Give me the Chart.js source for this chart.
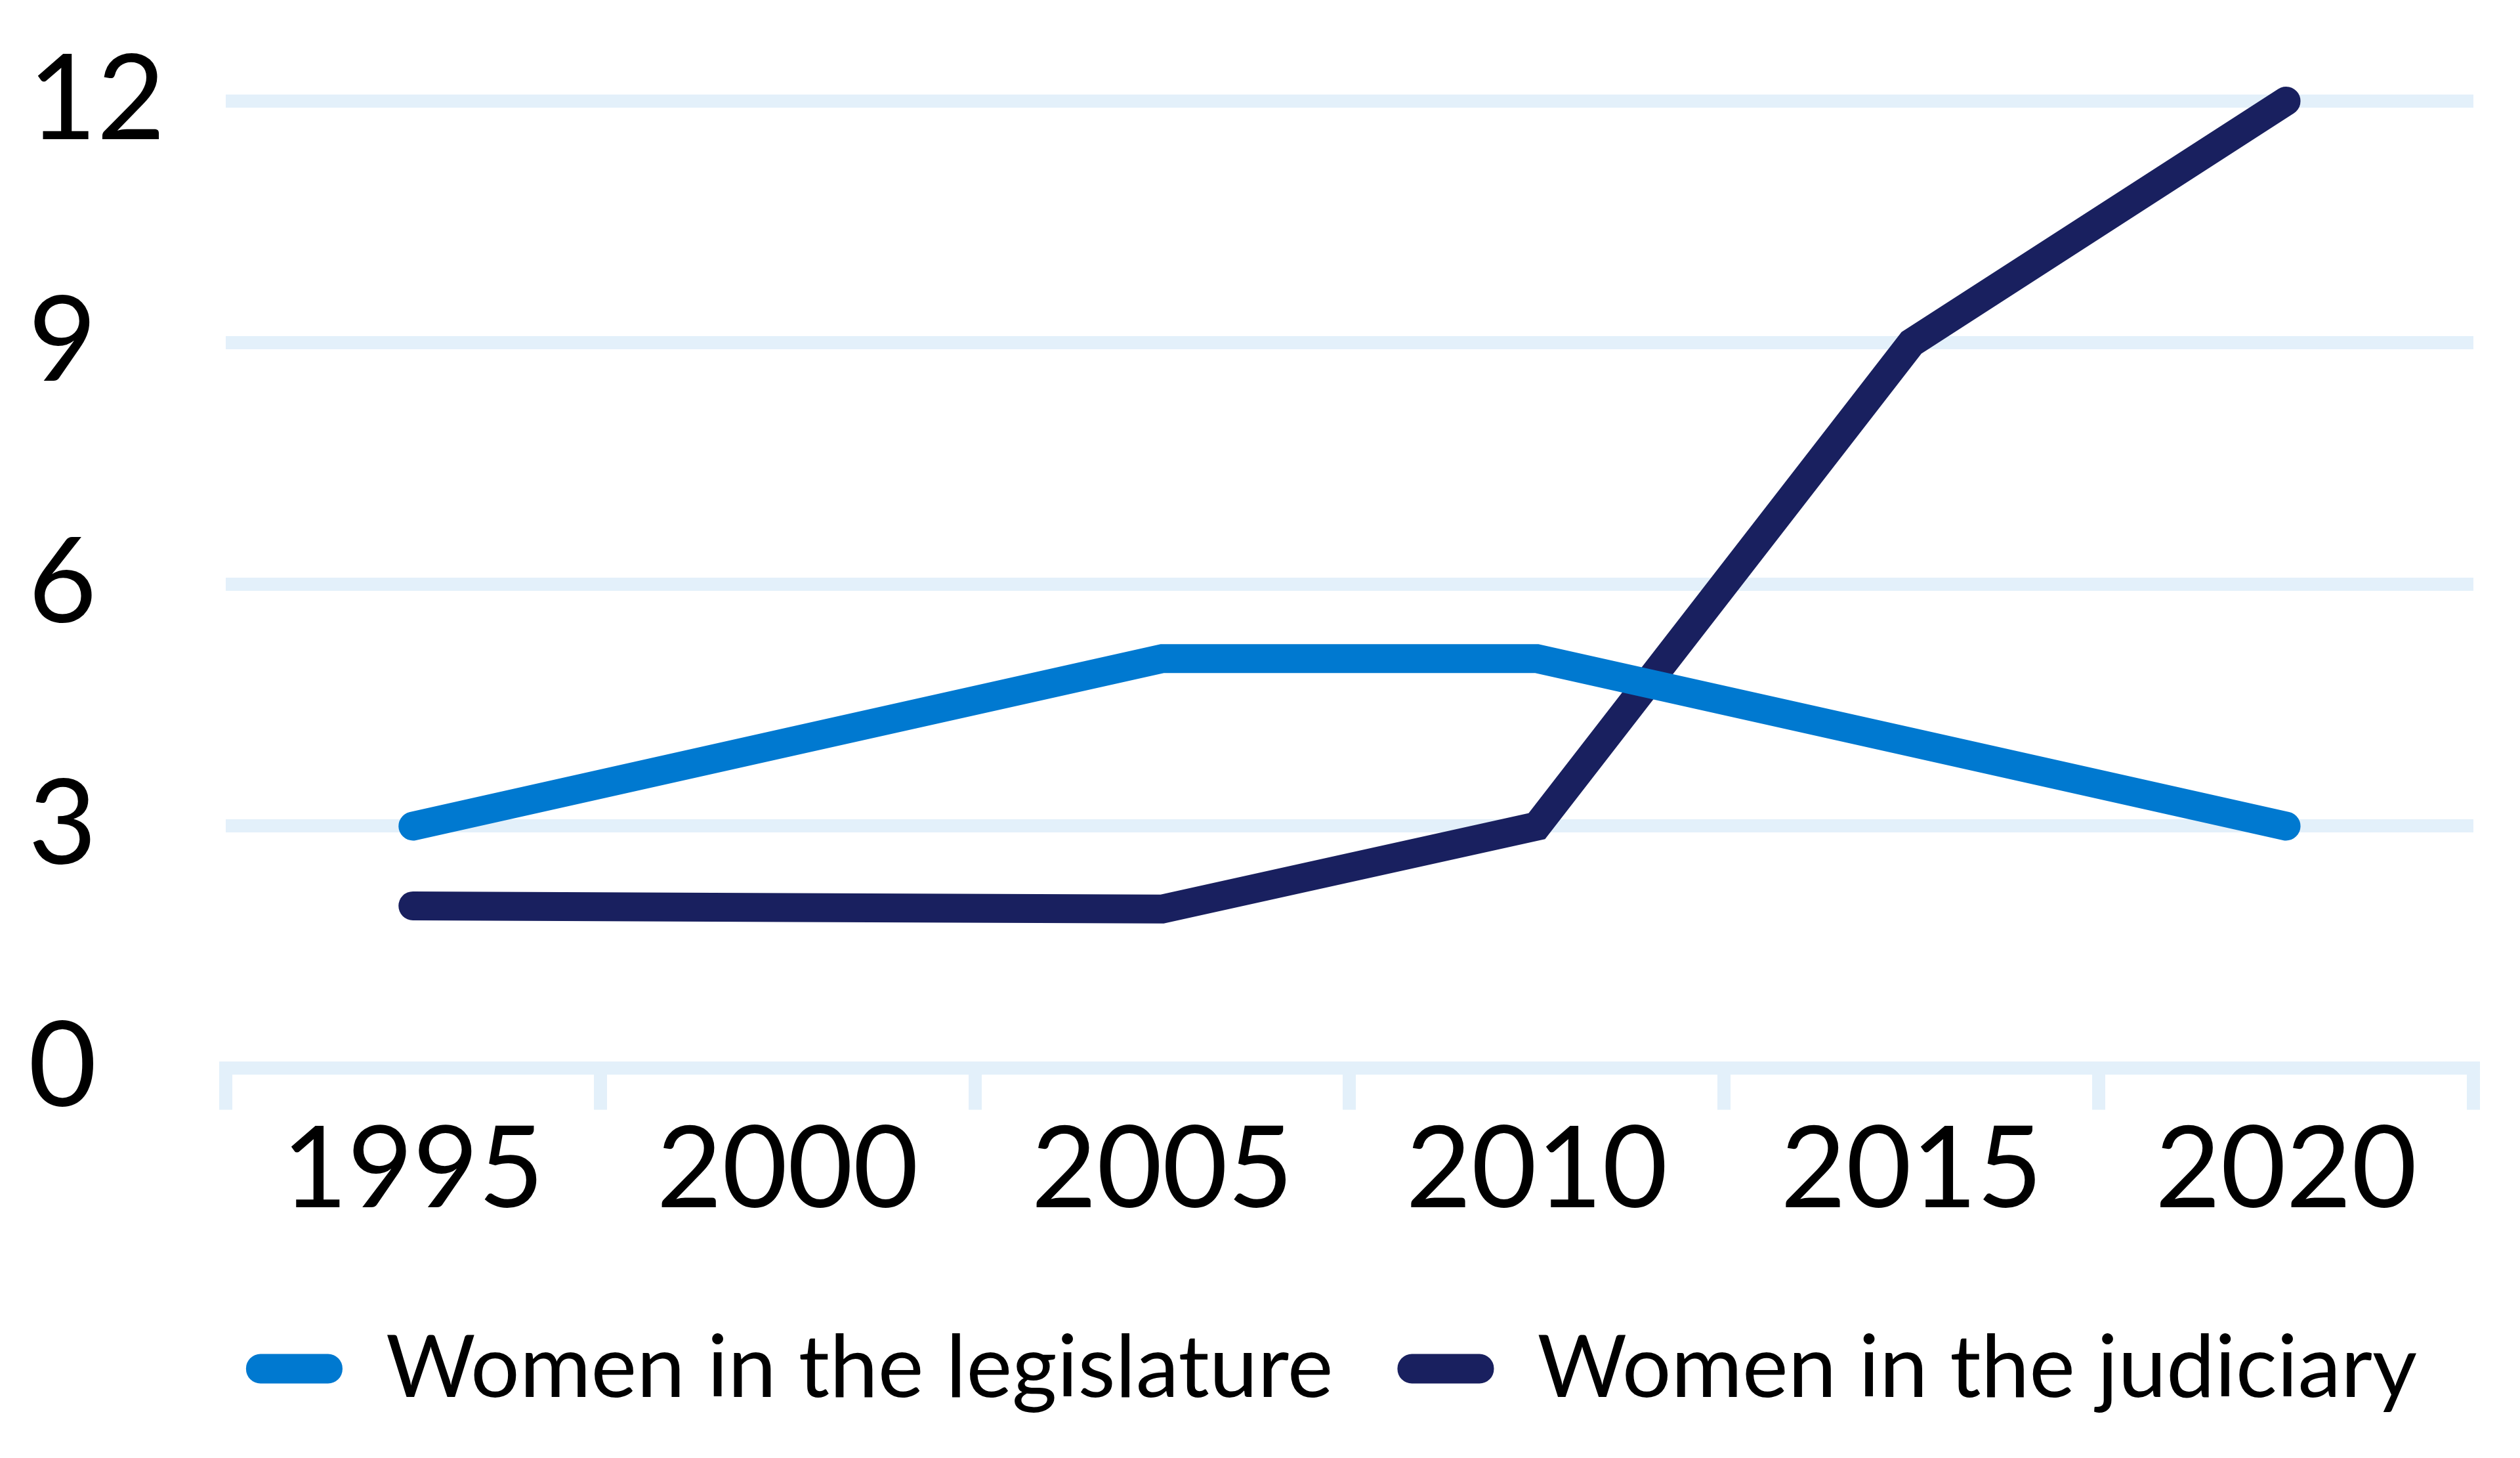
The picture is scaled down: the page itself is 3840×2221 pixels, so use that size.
<!DOCTYPE html>
<html>
<head>
<meta charset="utf-8">
<script src="https://cdn.jsdelivr.net/npm/chart.js@4/dist/chart.umd.min.js"></script>
<style>
  html, body { margin: 0; padding: 0; background: #fff; }
  #wrap { width: 3840px; height: 2221px; }
</style>
</head>
<body>
<div id="wrap"><canvas id="lineChart" width="3840" height="2221"></canvas></div>
<script>

const years = ["1995", "2000", "2005", "2010", "2015", "2020"];
const legislature = [3, 4.04, 5.08, 5.08, 4.04, 3];
const judiciary = [2.01, 1.99, 1.97, 3, 9, 12];
const yTicks = [0, 3, 6, 9, 12];

const gridColor = '#e3f0fa';
const legisColor = '#0079d0';
const judicColor = '#19205f';

Chart.defaults.font.family = 'Lato';
Chart.defaults.color = '#000';

// legend sits a bit right of the canvas centre in the original
const legendShift = {
  id: 'legendShift',
  afterLayout(chart) {
    chart.legend.left += 123;
    chart.legend.right += 123;
  }
};

var lineData = {
  labels: years,
  datasets: [{
    label: 'Women in the legislature',
    data: legislature,
    borderColor: legisColor,
    backgroundColor: legisColor,
    borderWidth: 44,
    borderCapStyle: 'round',
    borderJoinStyle: 'miter',
    pointRadius: 0,
    clip: false,
    fill: false,
  }, {
    label: 'Women in the judiciary',
    data: judiciary,
    borderColor: judicColor,
    backgroundColor: judicColor,
    borderWidth: 44,
    borderCapStyle: 'round',
    borderJoinStyle: 'miter',
    pointRadius: 0,
    clip: false,
    fill: false,
  }]
};

var lineOptions = {
  responsive: false,
  animation: false,
  layout: {
    padding: { left: 43, right: 71, top: 129, bottom: 60 }
  },
  plugins: {
    tooltip: { enabled: false },
    legend: {
      position: 'bottom',
      labels: {
        font: { size: 132 },
        boxWidth: 147,
        boxHeight: 45,
        useBorderRadius: true,
        borderRadius: 22,
        padding: 98,
        generateLabels: function(chart) {
          return Chart.defaults.plugins.legend.labels.generateLabels(chart).map(function(item) {
            item.lineWidth = 0;
            return item;
          });
        }
      }
    }
  },
  scales: {
    x: {
      offset: true,
      afterFit: function(scale) {
        scale.height += 44;
      },
      grid: {
        offset: true,
        drawOnChartArea: false,
        color: gridColor,
        lineWidth: 20,
        tickLength: 64,
      },
      border: { display: true, color: gridColor, width: 20 },
      ticks: { font: { size: 172 }, padding: -10 }
    },
    y: {
      min: 0,
      max: 12,
      afterBuildTicks: function(axis) {
        axis.ticks = yTicks.map(function(v) { return { value: v }; });
      },
      grid: { color: gridColor, lineWidth: 20, drawTicks: false },
      border: { display: false },
      ticks: { font: { size: 180 }, padding: 46, crossAlign: 'far' }
    }
  }
};

var lineChartCanvas = document.getElementById('lineChart').getContext('2d');
var lineChart = new Chart(lineChartCanvas, {
  type: 'line',
  data: lineData,
  options: lineOptions,
  plugins: [legendShift]
});
</script>
</body>
</html>
